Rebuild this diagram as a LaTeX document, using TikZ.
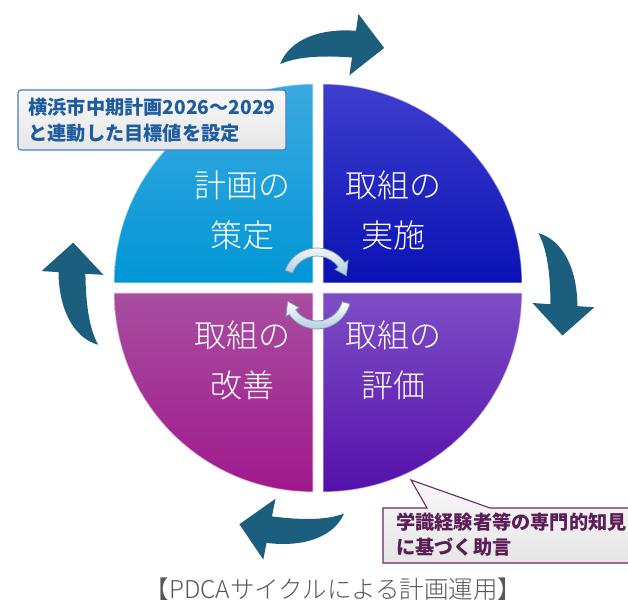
\documentclass[tikz,border=0pt]{standalone}
\usepackage{fontspec}
\setmainfont{Noto Sans CJK JP}
\IfFontExistsTF{Noto Sans CJK JP Light}{\newfontfamily\lightcjk{Noto Sans CJK JP Light}}{\newfontfamily\lightcjk{Noto Sans CJK JP}}
\definecolor{arrowteal}{RGB}{27,94,126}
\definecolor{tlTop}{RGB}{60,170,224}
\definecolor{tlBot}{RGB}{0,150,214}
\definecolor{trTop}{RGB}{62,62,206}
\definecolor{trBot}{RGB}{10,18,180}
\definecolor{blTop}{RGB}{168,78,160}
\definecolor{blBot}{RGB}{160,24,140}
\definecolor{brTop}{RGB}{126,78,198}
\definecolor{brBot}{RGB}{84,16,170}
\definecolor{smallBot}{RGB}{170,200,222}
\definecolor{smallEdge}{RGB}{120,150,175}
\definecolor{noteblue}{RGB}{60,128,205}
\definecolor{notebluetext}{RGB}{30,92,160}
\definecolor{notepurple}{RGB}{108,38,100}
\definecolor{notepurpletext}{RGB}{92,28,86}
\definecolor{noteTop}{RGB}{248,248,248}
\definecolor{noteBot}{RGB}{230,230,230}
\definecolor{captiongray}{RGB}{88,88,88}
\begin{document}
\begin{tikzpicture}[x=1pt,y=1pt,
  quad/.style={shading=axis, draw=white, draw opacity=0.5, line width=1.2pt},
  quadtext/.style={text=white, font=\lightcjk\fontsize{32}{50}\selectfont, align=center, inner sep=0pt},
  bigarrow/.style={fill=arrowteal},
  smallarrow/.style={top color=white, bottom color=smallBot, draw=smallEdge, line width=0.7pt},
  noteA/.style={draw=noteblue, line width=1.1pt, rounded corners=3pt, top color=noteTop, bottom color=noteBot,
    text=notebluetext, font=\bfseries\fontsize{19.2}{26}\selectfont, align=left,
    minimum width=268pt, minimum height=60pt, inner sep=0pt},
  noteBbox/.style={draw=notepurple, line width=1.1pt, top color=noteTop, bottom color=noteBot},
  noteBtext/.style={text=notepurpletext, font=\bfseries\fontsize{19.2}{25}\selectfont, align=left, inner sep=0pt},
  caption/.style={text=captiongray, font=\lightcjk\fontsize{24.5}{28}\selectfont, inner sep=0pt}
]
\useasboundingbox (0,0) rectangle (628,604);
\fill[white] (0,0) rectangle (628,604);

% quadrants
\path[quad, top color=tlTop, bottom color=tlBot] (313,321) -- (313,520) arc[start angle=90,end angle=180,radius=199] -- cycle;
\path[quad, top color=trTop, bottom color=trBot] (323,321) -- (522,321) arc[start angle=0,end angle=90,radius=199] -- cycle;
\path[quad, top color=blTop, bottom color=blBot] (313,311) -- (114,311) arc[start angle=180,end angle=270,radius=199] -- cycle;
\path[quad, top color=brTop, bottom color=brBot] (323,311) -- (323,112) arc[start angle=270,end angle=360,radius=199] -- cycle;

% quadrant texts
\node[quadtext] (plan) at (242,394) {計画の\\策定};
\node[quadtext] (do) at (393,394) {取組の\\実施};
\node[quadtext] (act) at (242,244) {取組の\\改善};
\node[quadtext] (check) at (393,244) {取組の\\評価};

% big cycle arrows
\begin{scope}[shift={(318,316)}]
\foreach \a in {99.6,14,-83.4,194.5}{
  \fill[bigarrow] (\a:227) .. controls (\a-3:250) and (\a-10:260) .. (\a-18:260)
    -- (\a-18:277) -- (\a-25:249) -- (\a-18:215) -- (\a-18:233)
    .. controls (\a-10:233) and (\a-4:232) .. (\a:227) -- cycle;
}
\end{scope}

% small centre arrows
\begin{scope}[shift={(317,322)}]
  \path[smallarrow] (160:34) arc[start angle=160,end angle=35,radius=34] -- (35:38) -- (12:30) -- (35:22) -- (35:26)
    arc[start angle=35,end angle=160,radius=26] -- cycle;
\end{scope}
\begin{scope}[shift={(317,309)}]
  \path[smallarrow] (-15:34) arc[start angle=-15,end angle=-145,radius=34] -- (-145:38) -- (-168:30) -- (-145:22) -- (-145:26)
    arc[start angle=-145,end angle=-15,radius=26] -- cycle;
\end{scope}

% callout 1
\node[noteA] (noteA) at (152,484) {横浜市中期計画2026～2029\\と連動した目標値を設定};

% callout 2
\coordinate (tipB) at (411,124);
\path[noteBbox] (383,96) -- (427,96) -- (tipB) -- (490,96) -- (640,96) -- (640,41) -- (383,41) -- cycle;
\node[noteBtext, anchor=west] (noteB) at (396,69.5) {学識経験者等の専門的知見\\に基づく助言};

% caption
\node[caption] (cap) at (333.5,15) {【PDCAサイクルによる計画運用】};
\end{tikzpicture}
\end{document}
